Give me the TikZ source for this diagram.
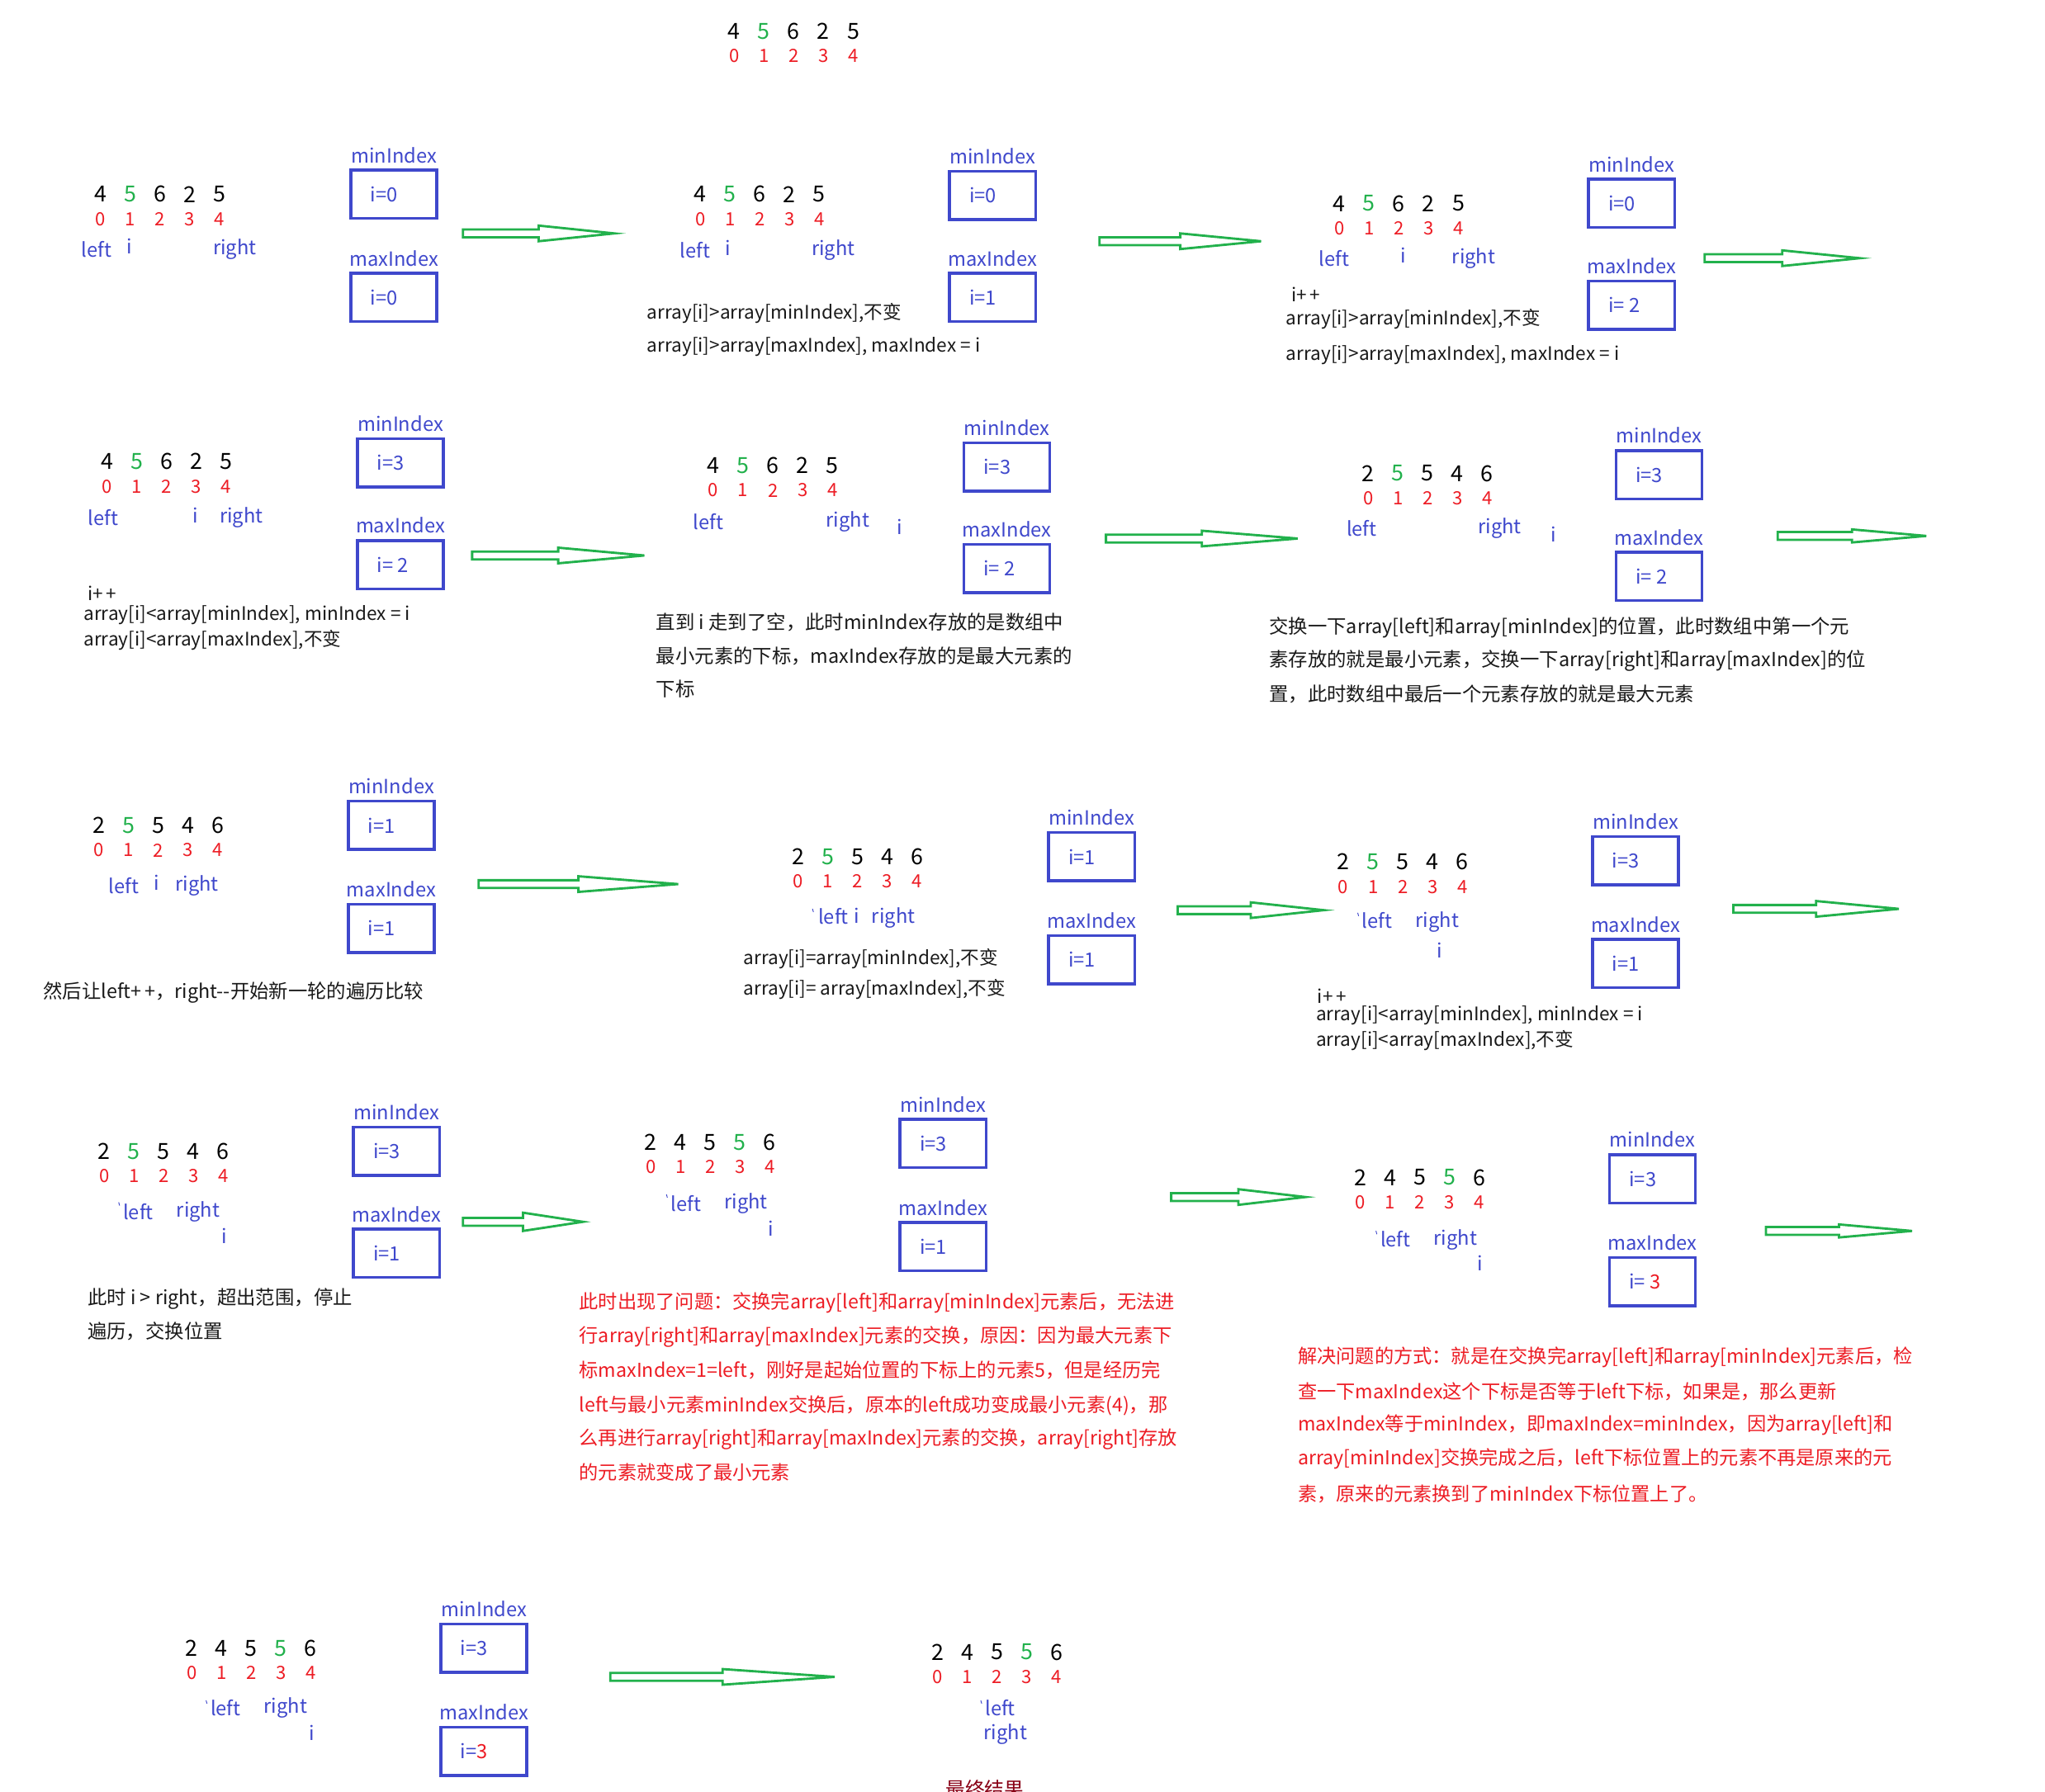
\documentclass[tikz,border=0pt]{standalone}
\usepackage{fontspec}
\setmainfont{Noto Sans CJK SC}
\definecolor{lblue}{RGB}{63,72,204}
\definecolor{bxblue}{RGB}{63,72,204}
\definecolor{pgreen}{RGB}{34,177,76}
\definecolor{pred}{RGB}{237,28,36}
\definecolor{dred}{RGB}{136,0,21}
\definecolor{txt}{RGB}{25,25,25}
\tikzset{
  dig/.style={font=\fontsize{17}{17}\selectfont, inner sep=0pt},
  idx/.style={text=pred, font=\fontsize{14}{14}\selectfont, inner sep=0pt},
  lbl/.style={text=lblue, font=\fontsize{15}{15}\selectfont, inner sep=0pt},
  bx/.style={draw=bxblue, line width=2.2pt, minimum width=66pt, minimum height=37pt, inner sep=0pt},
  val/.style={text=lblue, font=\fontsize{15}{15}\selectfont, inner sep=0pt, anchor=west},
  note/.style={text=txt, font=\fontsize{14.3}{14.3}\selectfont, inner sep=0pt, anchor=west},
  cn/.style={text=txt, font=\fontsize{14.8}{14.8}\selectfont, inner sep=0pt, anchor=west},
  rn/.style={text=pred, font=\fontsize{14.7}{14.7}\selectfont, inner sep=0pt, anchor=west},
  garr/.style={draw=pgreen, line width=1.8pt, line join=miter},
  tk/.style={draw=lblue, line width=0.6pt}
}
% digit row: name, x0, y, list digit/colour
\newcommand\numrow[4]{%
  \foreach \d/\c [count=\k from 0] in {#4} {
    \node[dig, text=\c] (#1d\k) at ({#2+22.8*\k},#3) {\d};
    \node[idx] (#1i\k) at ({#2+22.8*\k},{#3+19}) {\k};
  }}
% index box: name, label, cx, label y, value
\newcommand\ibox[5]{%
  \node[lbl] (#1l) at (#3,#4) {#2};
  \node[bx] (#1) at (#3,{#4+30}) {};
  \node[val] (#1v) at ({#3-18},{#4+30}) {#5};}
% pointer label: name, text, x, y
\newcommand\ptr[4]{\node[lbl] (#1) at (#3,#4) {#2};}
% green hollow arrow: name, x0, x1, y, head half height
\newcommand\garrow[5]{%
  \coordinate (#1s) at (#2,#4);
  \coordinate (#1e) at (#3,#4);
  \draw[garr] (#2,{#4-3}) -- ({(#2+#3)/2},{#4-3}) -- ({(#2+#3)/2},{#4-#5})
     -- (#1e) -- ({(#2+#3)/2},{#4+#5}) -- ({(#2+#3)/2},{#4+3}) -- (#2,{#4+3}) -- cycle;}
\newcommand\tick[2]{\draw[tk] (#1,#2) -- ({#1+0.7},{#2+2.5});}
\begin{document}
\begin{tikzpicture}[x=1pt,y=-1pt]
\fill[white] (0,0) rectangle (1568,1374);
\clip (0,0) rectangle (1568,1374);

% header
\numrow{h}{563}{24}{4/black,5/pgreen,6/black,2/black,5/black}

% ---------- row 1 ----------
\numrow{a}{77}{149}{4/black,5/pgreen,6/black,2/black,5/black}
\ptr{aL}{left}{74}{191}\ptr{aI}{i}{99}{189}\ptr{aR}{right}{180}{191}
\ibox{amin}{minIndex}{302}{119}{i=0}
\ibox{amax}{maxIndex}{302}{198}{i=0}
\garrow{ar1}{355}{471}{179}{6}

\numrow{b}{537}{149}{4/black,5/pgreen,6/black,2/black,5/black}
\ptr{bL}{left}{533}{192}\ptr{bI}{i}{558}{190}\ptr{bR}{right}{639}{192}
\ibox{bmin}{minIndex}{761}{120}{i=0}
\ibox{bmax}{maxIndex}{761}{198}{i=1}
\node[note] (bt1) at (496,240) {array[i]>array[minIndex],不变};
\node[note] (bt2) at (496,266) {array[i]>array[maxIndex], maxIndex = i};
\garrow{ar2}{843}{967}{185}{6}

\numrow{c}{1027}{156}{4/black,5/pgreen,6/black,2/black,5/black}
\ptr{cL}{left}{1023}{198}\ptr{cI}{i}{1076}{196}\ptr{cR}{right}{1130}{198}
\ibox{cmin}{minIndex}{1251}{126}{i=0}
\ibox{cmax}{maxIndex}{1251}{204}{i= 2}
\node[note] (ct0) at (990,226) {i+\,+};
\node[note] (ct1) at (986,245) {array[i]>array[minIndex],不变};
\node[note] (ct2) at (986,272) {array[i]>array[maxIndex], maxIndex = i};
\garrow{ar3}{1307}{1426}{198}{6}

% ---------- row 2 ----------
\numrow{d}{82}{354}{4/black,5/pgreen,6/black,2/black,5/black}
\ptr{dL}{left}{79}{397}\ptr{dI}{i}{150}{395}\ptr{dR}{right}{185}{397}
\ibox{dmin}{minIndex}{307}{325}{i=3}
\ibox{dmax}{maxIndex}{307}{403}{i= 2}
\node[note] (dt0) at (67,455) {i+\,+};
\node[note] (dt1) at (64,472) {array[i]<array[minIndex], minIndex = i};
\node[note] (dt2) at (64,491) {array[i]<array[maxIndex],不变};
\garrow{ar4}{362}{494}{426}{6}

\numrow{e}{547}{357}{4/black,5/pgreen,6/black,2/black,5/black}
\ptr{eL}{left}{543}{400}\ptr{eR}{right}{650}{400}\ptr{eI}{i}{690}{404}
\ibox{emin}{minIndex}{772}{328}{i=3}
\ibox{emax}{maxIndex}{772}{406}{i= 2}
\node[cn] (et1) at (503,477) {直到 i 走到了空，此时minIndex存放的是数组中};
\node[cn] (et2) at (503,503) {最小元素的下标，maxIndex存放的是最大元素的};
\node[cn] (et3) at (503,528) {下标};
\garrow{ar5}{848}{995}{413}{6}

\numrow{f}{1049}{363}{2/black,5/pgreen,5/black,4/black,6/black}
\ptr{fL}{left}{1044}{405}\ptr{fR}{right}{1150}{405}\ptr{fI}{i}{1191}{410}
\ibox{fmin}{minIndex}{1272}{334}{i=3}
\ibox{fmax}{maxIndex}{1272}{412}{i= 2}
\node[cn] (ft1) at (973,481) {交换一下array[left]和array[minIndex]的位置，此时数组中第一个元};
\node[cn] (ft2) at (973,507) {素存放的就是最小元素，交换一下array[right]和array[maxIndex]的位};
\node[cn] (ft3) at (973,532) {置，此时数组中最后一个元素存放的就是最大元素};
\garrow{ar6}{1363}{1477}{411}{5}

% ---------- row 3 ----------
\numrow{g}{76}{633}{2/black,5/pgreen,5/black,4/black,6/black}
\ptr{gL}{left}{95}{679}\ptr{gI}{i}{120}{677}\ptr{gR}{right}{151}{679}
\ibox{gmin}{minIndex}{300}{603}{i=1}
\ibox{gmax}{maxIndex}{300}{682}{i=1}
\node[cn] (gt1) at (33,761) {然后让left+\,+，right{-}{-}开始新一轮的遍历比较};
\garrow{ar7}{367}{520}{678}{6}

\numrow{k}{612}{657}{2/black,5/pgreen,5/black,4/black,6/black}
\tick{623}{697}
\ptr{kL}{left}{639}{703}\ptr{kI}{i}{657}{702}\ptr{kR}{right}{685}{704}
\ibox{kmin}{minIndex}{837}{627}{i=1}
\ibox{kmax}{maxIndex}{837}{706}{i=1}
\node[note] (kt1) at (570,735) {array[i]=array[minIndex],不变};
\node[note] (kt2) at (570,759) {array[i]= array[maxIndex],不变};
\garrow{ar8}{903}{1015}{698}{6}

\numrow{m}{1030}{661}{2/black,5/pgreen,5/black,4/black,6/black}
\tick{1041}{700}
\ptr{mL}{left}{1056}{706}\ptr{mR}{right}{1102}{707}\ptr{mI}{i}{1104}{729}
\ibox{mmin}{minIndex}{1254}{630}{i=3}
\ibox{mmax}{maxIndex}{1254}{709}{i=1}
\node[note] (mt0) at (1010,764) {i+\,+};
\node[note] (mt1) at (1009,779) {array[i]<array[minIndex], minIndex = i};
\node[note] (mt2) at (1009,798) {array[i]<array[maxIndex],不变};
\garrow{ar9}{1329}{1456}{697}{6}

% ---------- row 4 ----------
\numrow{n}{80}{883}{2/black,5/pgreen,5/black,4/black,6/black}
\tick{91}{922}
\ptr{nL}{left}{106}{929}\ptr{nR}{right}{152}{929}\ptr{nI}{i}{172}{948}
\ibox{nmin}{minIndex}{304}{853}{i=3}
\ibox{nmax}{maxIndex}{304}{931}{i=1}
\node[cn] (nt1) at (67,996) {此时 i > right，超出范围，停止};
\node[cn] (nt2) at (67,1021) {遍历，交换位置};
\garrow{ar10}{355}{447}{937}{7}

\numrow{p}{499}{876}{2/black,4/black,5/black,5/pgreen,6/black}
\tick{511}{916}
\ptr{pL}{left}{526}{923}\ptr{pR}{right}{572}{923}\ptr{pI}{i}{591}{942}
\ibox{pmin}{minIndex}{723}{847}{i=3}
\ibox{pmax}{maxIndex}{723}{926}{i=1}
\node[rn] (pt1) at (444,999) {此时出现了问题：交换完array[left]和array[minIndex]元素后，无法进};
\node[rn] (pt2) at (444,1025) {行array[right]和array[maxIndex]元素的交换，原因：因为最大元素下};
\node[rn] (pt3) at (444,1051) {标maxIndex=1=left，刚好是起始位置的下标上的元素5，但是经历完};
\node[rn] (pt4) at (444,1078) {left与最小元素minIndex交换后，原本的left成功变成最小元素(4)，那};
\node[rn] (pt5) at (444,1104) {么再进行array[right]和array[maxIndex]元素的交换，array[right]存放};
\node[rn] (pt6) at (444,1129) {的元素就变成了最小元素};
\garrow{ar11}{898}{1001}{918}{6}

\numrow{q}{1043}{903}{2/black,4/black,5/black,5/pgreen,6/black}
\tick{1055}{944}
\ptr{qL}{left}{1070}{950}\ptr{qR}{right}{1116}{951}\ptr{qI}{i}{1135}{969}
\ibox{qmin}{minIndex}{1267}{874}{i=3}
\ibox{qmax}{maxIndex}{1267}{953}{i= \textcolor{pred}{3}}
\node[rn] (qt1) at (995,1041) {解决问题的方式：就是在交换完array[left]和array[minIndex]元素后，检};
\node[rn] (qt2) at (995,1067) {查一下maxIndex这个下标是否等于left下标，如果是，那么更新};
\node[rn] (qt3) at (995,1093) {maxIndex等于minIndex，即maxIndex=minIndex，因为array[left]和};
\node[rn] (qt4) at (995,1119) {array[minIndex]交换完成之后，left下标位置上的元素不再是原来的元};
\node[rn] (qt5) at (995,1146) {素，原来的元素换到了minIndex下标位置上了。};
\garrow{ar12}{1354}{1466}{944}{5}

% ---------- row 5 ----------
\numrow{r}{147}{1264}{2/black,4/black,5/black,5/pgreen,6/black}
\tick{158}{1304}
\ptr{rL}{left}{173}{1310}\ptr{rR}{right}{219}{1310}\ptr{rI}{i}{239}{1329}
\ibox{rmin}{minIndex}{371}{1234}{i=3}
\ibox{rmax}{maxIndex}{371}{1313}{i=\textcolor{pred}{3}}
\garrow{ar13}{468}{640}{1286}{6}

\numrow{s}{719}{1267}{2/black,4/black,5/black,5/pgreen,6/black}
\tick{752}{1304}
\ptr{sL}{left}{767}{1310}\ptr{sR}{right}{771}{1330}
\node[text=dred, font=\fontsize{15}{15}\selectfont, inner sep=0pt] (fin) at (755,1372) {最终结果};
\end{tikzpicture}
\end{document}
